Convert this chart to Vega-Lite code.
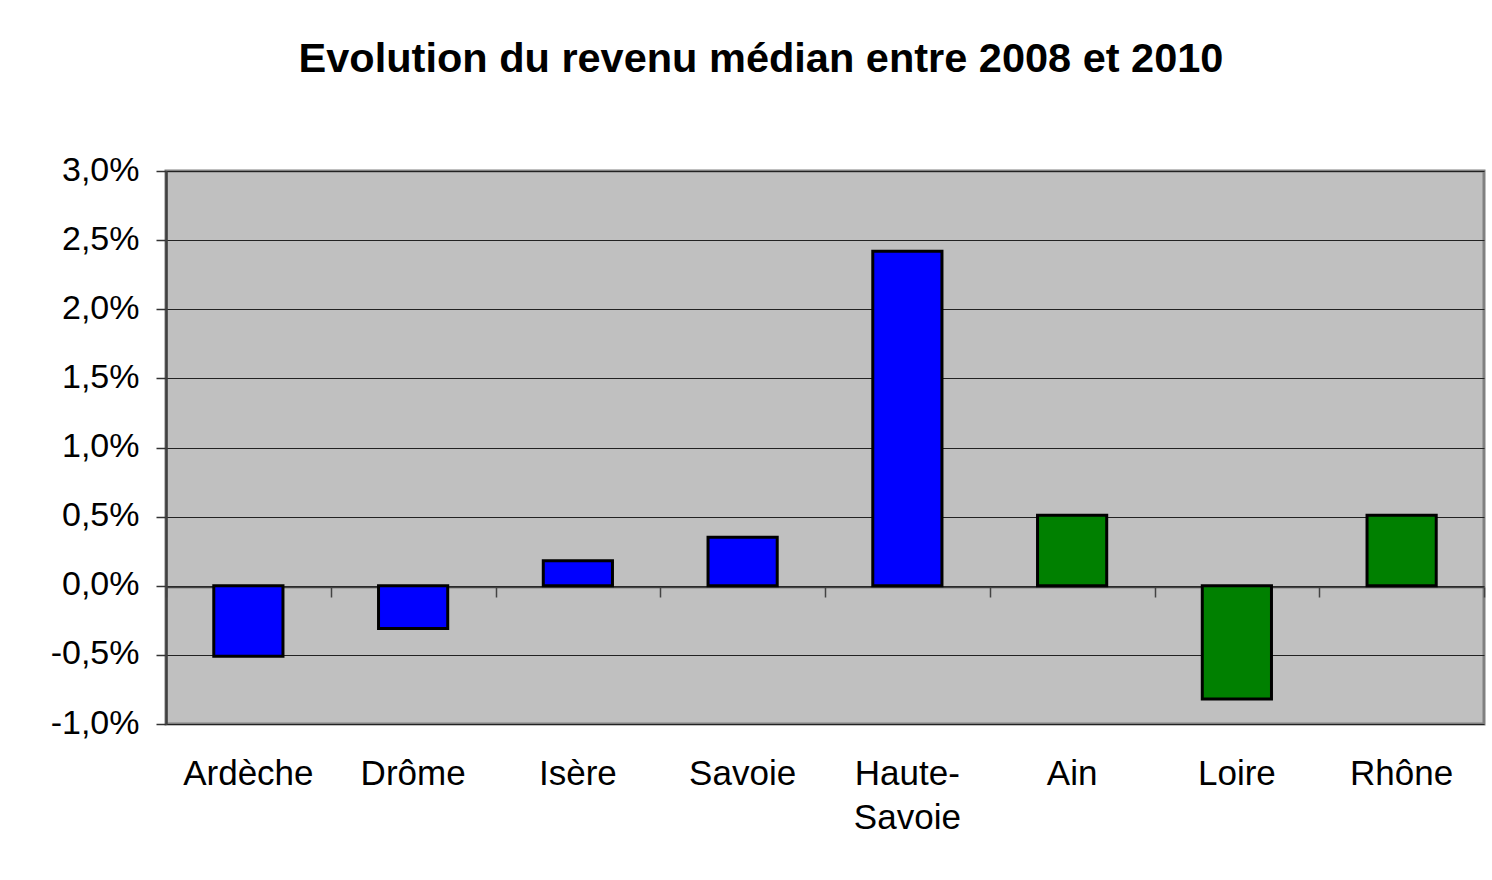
{
  "$schema": "https://vega.github.io/schema/vega-lite/v6.json",
  "autosize": "none",
  "padding": {"left": 166, "top": 171, "right": 8, "bottom": 156},
  "width": 1318,
  "height": 553,
  "background": "white",
  "title": {
    "text": "Evolution du revenu médian entre 2008 et 2010",
    "font": "Liberation Sans",
    "fontSize": 41.5,
    "fontWeight": "bold",
    "color": "black",
    "anchor": "middle",
    "dx": -64,
    "offset": 73
  },
  "data": {
    "values": [
      {"dept": "Ardèche", "evol": -0.0051, "groupe": "A"},
      {"dept": "Drôme", "evol": -0.0031, "groupe": "A"},
      {"dept": "Isère", "evol": 0.0018, "groupe": "A"},
      {"dept": "Savoie", "evol": 0.0035, "groupe": "A"},
      {"dept": "Haute-Savoie", "evol": 0.0242, "groupe": "A"},
      {"dept": "Ain", "evol": 0.0051, "groupe": "B"},
      {"dept": "Loire", "evol": -0.0082, "groupe": "B"},
      {"dept": "Rhône", "evol": 0.0051, "groupe": "B"}
    ]
  },
  "layer": [
    {
      "mark": {"type": "bar", "stroke": "black", "strokeWidth": 3},
      "encoding": {
        "x": {
          "field": "dept",
          "type": "nominal",
          "sort": null,
          "scale": {"paddingInner": 0.58, "paddingOuter": 0.29},
          "axis": {
            "orient": "bottom",
            "title": null,
            "labelAngle": 0,
            "labelFont": "Liberation Sans",
            "labelFontSize": 35,
            "labelColor": "black",
            "labelPadding": 32,
            "labelLineHeight": 44,
            "labelExpr": "datum.value == 'Haute-Savoie' ? ['Haute-', 'Savoie'] : datum.value",
            "ticks": false,
            "domain": false,
            "grid": false
          }
        },
        "y": {
          "field": "evol",
          "type": "quantitative",
          "scale": {"domain": [-0.01, 0.03], "nice": false},
          "axis": {
            "title": null,
            "values": [-0.01, -0.005, 0, 0.005, 0.01, 0.015, 0.02, 0.025, 0.03],
            "labelExpr": "(datum.value < 0 ? '-' : '') + replace(format(abs(datum.value), '.1%'), '.', ',')",
            "labelFont": "Liberation Sans",
            "labelFontSize": 34,
            "labelColor": "black",
            "labelPadding": 17,
            "labelOffset": -1,
            "tickSize": 10,
            "tickColor": "#333333",
            "tickWidth": 1.5,
            "domainColor": "#404040",
            "domainWidth": 2.5,
            "grid": true,
            "gridColor": "#222222",
            "gridWidth": 1.2,
            "gridOpacity": 1
          }
        },
        "color": {
          "field": "groupe",
          "type": "nominal",
          "scale": {"domain": ["A", "B"], "range": ["#0000FF", "#008000"]},
          "legend": null
        }
      }
    },
    {
      "mark": {"type": "bar", "opacity": 0},
      "encoding": {
        "x": {
          "field": "dept",
          "type": "nominal",
          "sort": null,
          "scale": {"paddingInner": 0, "paddingOuter": 0},
          "axis": {
            "orient": "bottom",
            "title": null,
            "labels": false,
            "offset": -137,
            "tickBand": "extent",
            "tickSize": 10,
            "tickColor": "#444444",
            "tickWidth": 1.5,
            "domain": true,
            "domainColor": "#444444",
            "domainWidth": 1.5,
            "grid": false
          }
        },
        "y": {"field": "evol", "type": "quantitative"}
      }
    }
  ],
  "resolve": {"axis": {"x": "independent"}, "scale": {"x": "independent"}},
  "config": {
    "view": {"fill": "#C0C0C0", "stroke": "#808080", "strokeWidth": 3}
  }
}
